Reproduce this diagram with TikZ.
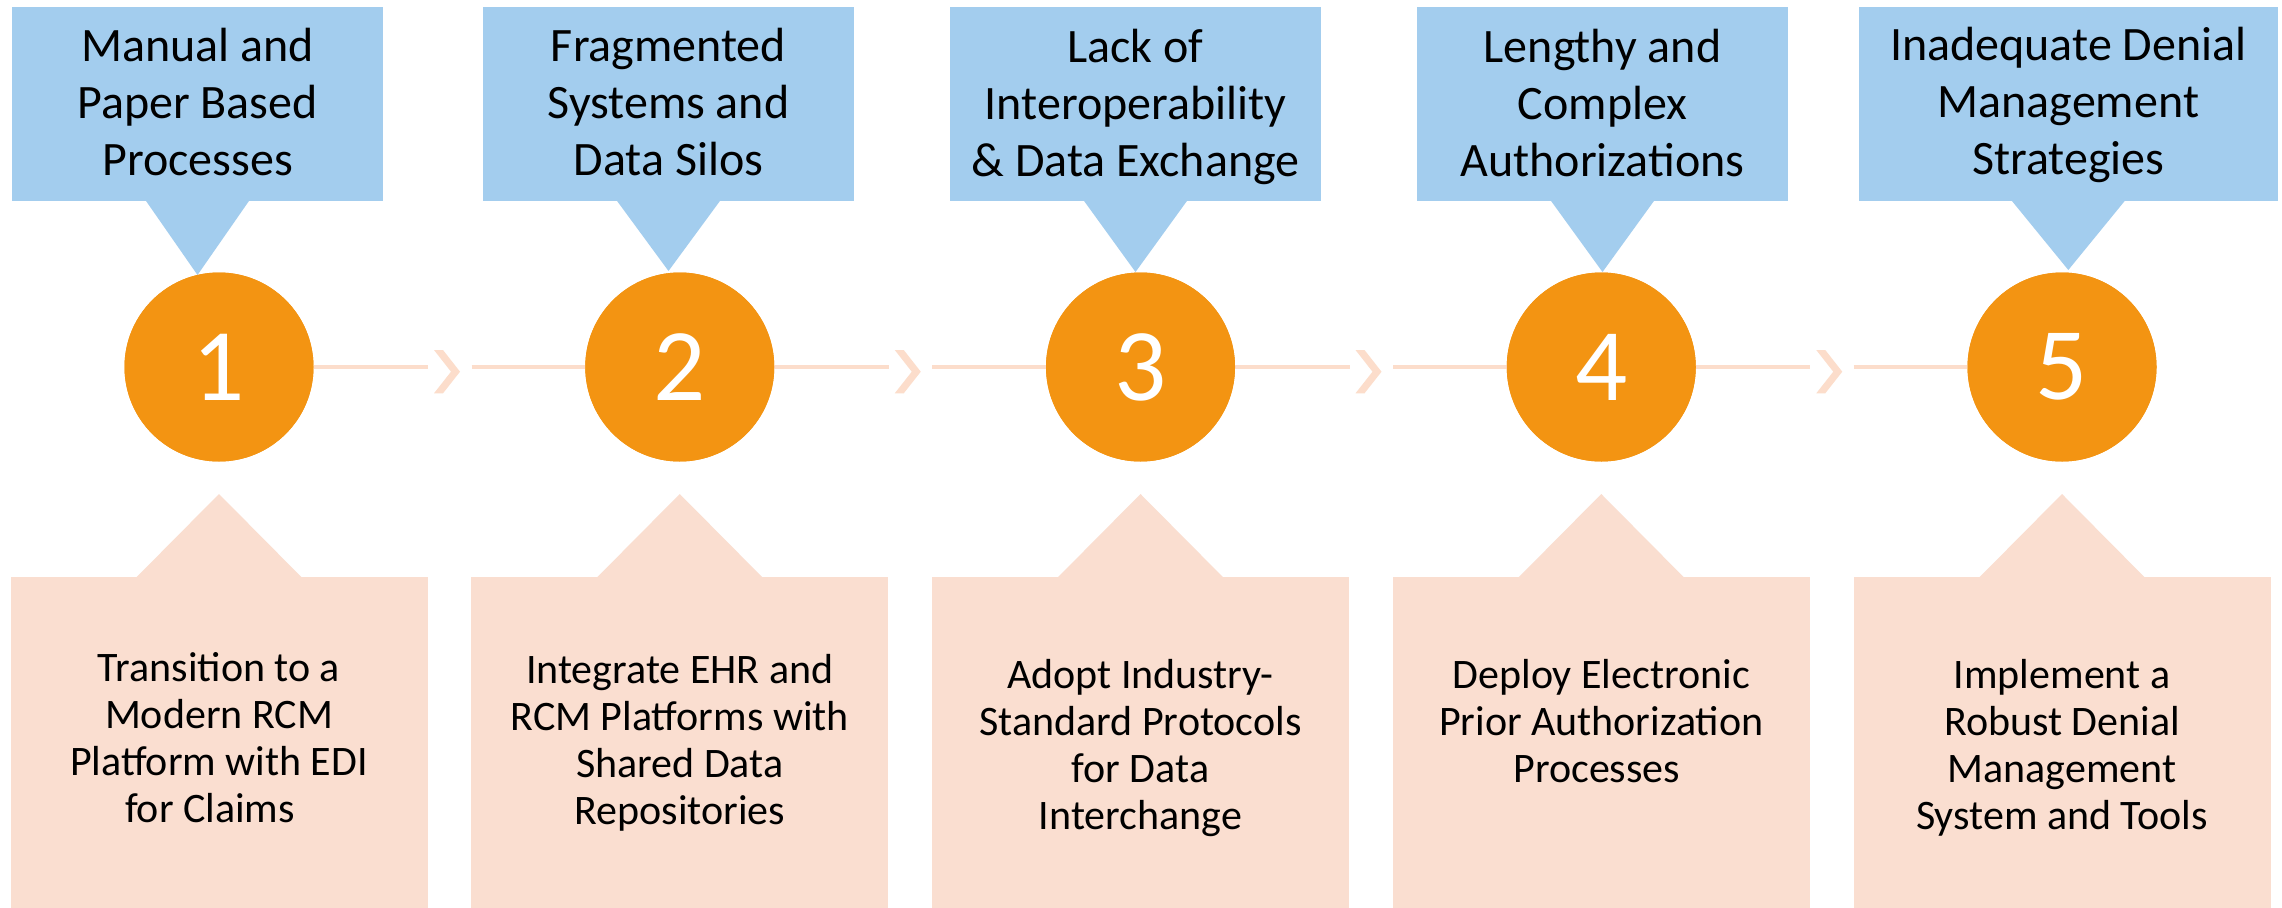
\documentclass[tikz,border=0pt]{standalone}
\usepackage{fontspec}
\setmainfont{Carlito}
\definecolor{probBlue}{HTML}{A3CDEE}
\definecolor{stepOrange}{HTML}{F39412}
\definecolor{solPeach}{HTML}{FADED0}
\definecolor{linkPeach}{HTML}{FCDDCB}
\begin{document}
\begin{tikzpicture}[x=1pt,y=-1pt,
  topbox/.style={fill=probBlue, inner sep=0pt, minimum height=194pt},
  toptext/.style={font=\fontsize{48}{57}\selectfont, align=center, anchor=north, inner sep=0pt},
  stepcircle/.style={circle, fill=stepOrange, minimum size=189pt, inner sep=0pt,
    text=white, font=\fontsize{103}{120}\selectfont},
  solbox/.style={fill=solPeach, inner sep=0pt, minimum width=417pt, minimum height=340pt, anchor=north},
  soltext/.style={font=\fontsize{42}{47}\selectfont, align=center, anchor=north, inner sep=0pt},
  link/.style={draw=linkPeach, line width=4pt},
  chev/.style={fill=linkPeach}
]
\fill[white] (0,0) rectangle (2282,907);
\useasboundingbox (0,0) rectangle (2282,907);

% problem callouts along the top
\node[topbox, minimum width=371pt] (p1) at (197.5,104) {};
\node[topbox, minimum width=371pt] (p2) at (668.5,104) {};
\node[topbox, minimum width=371pt] (p3) at (1135.5,104) {};
\node[topbox, minimum width=371pt] (p4) at (1602.5,104) {};
\node[topbox, minimum width=419pt] (p5) at (2068.3,104) {};
\coordinate (t1) at (197.5,275);
\coordinate (t2) at (668.5,271);
\coordinate (t3) at (1135.5,272);
\coordinate (t4) at (1602.5,272);
\coordinate (t5) at (2068.3,270);
\foreach \k/\hb in {1/52,2/52,3/52,4/52,5/57}{
  \fill[probBlue] ([xshift=-\hb pt,yshift=1pt]p\k.south) -- ([xshift=\hb pt,yshift=1pt]p\k.south) -- (t\k) -- cycle;
}
\node[toptext] (pt1) at (197.5,21.6) {\strut Manual and\\\strut Paper Based\\\strut Processes};
\node[toptext] (pt2) at (668.5,21.6) {\strut Fragmented\\\strut Systems and\\\strut Data Silos};
\node[toptext] (pt3) at (1135.5,22.6) {\strut Lack of\\\strut Interoperability\\\strut \& Data Exchange};
\node[toptext] (pt4) at (1602.5,22.6) {\strut Lengthy and\\\strut Complex\\\strut Authorizations};
\node[toptext] (pt5) at (2068.3,20.6) {\strut Inadequate Denial\\\strut Management\\\strut Strategies};

% numbered steps
\node[stepcircle] (c1) at (219,367) {};
\node[stepcircle] (c2) at (679.75,367) {};
\node[stepcircle] (c3) at (1140.5,367) {};
\node[stepcircle] (c4) at (1601.25,367) {};
\node[stepcircle] (c5) at (2062,367) {};

% connectors with chevrons between the steps
\foreach \k/\n in {1/2,2/3,3/4,4/5}{
  \path (c\k) ++(209,0) coordinate (ga\k) ++(43.7,0) coordinate (gb\k);
  \draw[link] (c\k.east) -- (ga\k);
  \draw[link] (gb\k) -- (c\n.west);
  \fill[chev] (c\k) ++(215,-17) -- ++(9,0) -- ++(17,21.7) -- ++(-17,21.6)
    -- ++(-9,0) -- ++(17,-21.6) -- cycle;
}
\foreach \k in {1,...,5}{
  \node[stepcircle] at (c\k) {\k};
}

% solution callouts along the bottom
\node[solbox] (s1) at (219,576.7) {};
\node[solbox] (s2) at (679.75,576.7) {};
\node[solbox] (s3) at (1140.5,576.7) {};
\node[solbox] (s4) at (1601.25,576.7) {};
\node[solbox] (s5) at (2062,576.7) {};
\foreach \k in {1,...,5}{
  \path (s\k.north) ++(0,-82.7) coordinate (a\k);
  \fill[solPeach] ([xshift=-83pt,yshift=-1pt]s\k.north) -- (a\k) -- ([xshift=83pt,yshift=-1pt]s\k.north) -- cycle;
}
\node[soltext] (st1) at (219,648) {\strut Transition to a\\\strut Modern RCM\\\strut Platform with EDI\\\strut for Claims\kern18pt};
\node[soltext] (st2) at (679.75,650) {\strut Integrate EHR and\\\strut RCM Platforms with\\\strut Shared Data\\\strut Repositories};
\node[soltext] (st3) at (1140.5,655) {\strut Adopt Industry-\\\strut Standard Protocols\\\strut for Data\\\strut Interchange};
\node[soltext] (st4) at (1601.25,655) {\strut Deploy Electronic\\\strut Prior Authorization\\\strut Processes\kern9pt};
\node[soltext] (st5) at (2062,655) {\strut Implement a\\\strut Robust Denial\\\strut Management\\\strut System and Tools};
\end{tikzpicture}
\end{document}
